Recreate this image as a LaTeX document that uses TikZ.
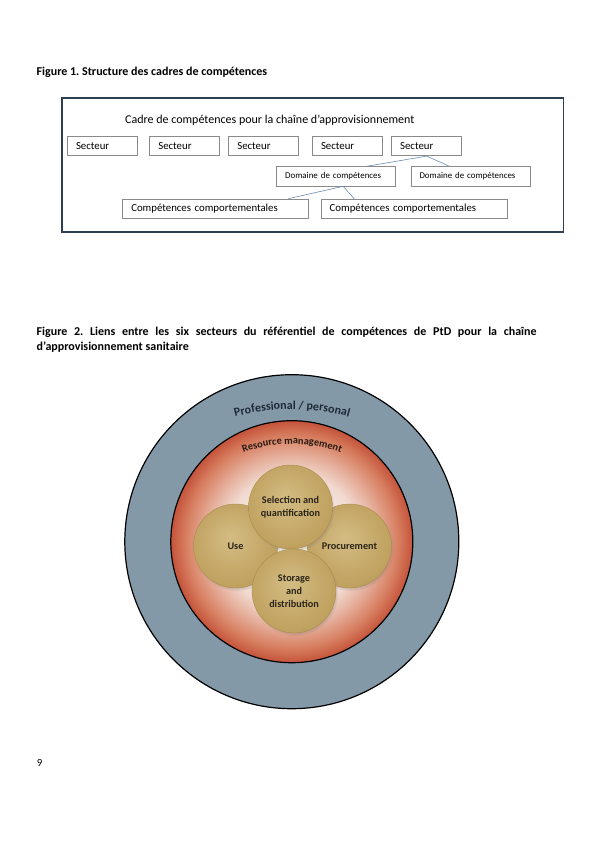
\documentclass[tikz,border=0pt]{standalone}
\usepackage{fontspec}
\setmainfont{Carlito}
\usepackage{xcolor}
\usetikzlibrary{shapes,positioning,calc,decorations.text,shadows,fadings}
\frenchspacing

\definecolor{framecol}{HTML}{2F3F52}
\definecolor{boxline}{HTML}{8A8A8A}
\definecolor{linkcol}{HTML}{6A8CB4}
\definecolor{ringgray}{HTML}{8499A8}
\definecolor{ringtext}{HTML}{1E2A38}
\definecolor{rmLight}{HTML}{F8F1EE}
\definecolor{rmPale}{HTML}{F1DAD0}
\definecolor{rmMid}{HTML}{E5AE9A}
\definecolor{rmWarm}{HTML}{D77E60}
\definecolor{rmEdge}{HTML}{C4533A}
\definecolor{rmtext}{HTML}{2A1A14}
\definecolor{goldLight}{HTML}{D3BC83}
\definecolor{goldDark}{HTML}{BFA05E}
\definecolor{goldrim}{HTML}{A98C4E}
\definecolor{unittext}{HTML}{2A2418}

\pgfdeclareradialshading{redglow}{\pgfpoint{0bp}{0bp}}{color(0bp)=(rmLight); color(8bp)=(rmLight); color(14bp)=(rmPale); color(18bp)=(rmMid); color(22bp)=(rmWarm); color(25bp)=(rmEdge); color(50bp)=(rmEdge)}
\pgfdeclareradialshading{goldglow}{\pgfpoint{-3bp}{5bp}}{color(0bp)=(goldLight); color(27bp)=(goldDark); color(50bp)=(goldDark)}

\begin{document}
\begin{tikzpicture}[x=1pt, y=-1pt]
% Define styles
\tikzstyle{heading} = [anchor=base west, inner sep=0pt, font=\bfseries\fontsize{12}{14}\selectfont]
\tikzstyle{plain} = [anchor=base west, inner sep=0pt, font=\fontsize{12}{14}\selectfont]
\tikzstyle{sectbox} = [rectangle, draw=boxline, line width=0.7pt, minimum height=19.5pt, text width=53pt, inner xsep=8.5pt, inner ysep=0pt, align=left, font=\fontsize{10.8}{12}\selectfont]
\tikzstyle{domainbox} = [rectangle, draw=boxline, line width=0.7pt, minimum height=19.3pt, text width=102pt, inner xsep=8.5pt, inner ysep=0pt, align=left, font=\fontsize{8.9}{10}\selectfont]
\tikzstyle{compbox} = [rectangle, draw=boxline, line width=0.7pt, minimum height=19.3pt, text width=169pt, inner xsep=8.5pt, inner ysep=0pt, align=left, font=\fontsize{10.8}{12}\selectfont]
\tikzstyle{link} = [draw=linkcol, line width=0.6pt]
\tikzstyle{areadisc} = [circle, minimum size=84pt, inner sep=0pt, align=center, draw=goldrim, line width=0.4pt, shading=goldglow, circular drop shadow={shadow xshift=1.2pt, shadow yshift=-2pt, shadow scale=1.03, opacity=0.5}, text=unittext, font=\bfseries\fontsize{10.2}{13}\selectfont]

\useasboundingbox (0,0) rectangle (600,848);
\fill[white] (0,0) rectangle (600,848);

% Figure 1
\node (fig1) [heading] at (36.5,75.7) {Figure 1. Structure des cadres de compétences};
\draw[framecol, line width=1.6pt] (61.7,98.3) rectangle (563.5,231.7);
\node (frametitle) [plain] at (125,123.3) {Cadre de compétences pour la chaîne d’approvisionnement};

\node (sec1) [sectbox] at (102.5,146) {Secteur};
\node (sec2) [sectbox, right=11.6pt of sec1] {Secteur};
\node (sec3) [sectbox, right=8.3pt of sec2] {Secteur};
\node (sec4) [sectbox, right=13pt of sec3] {Secteur};
\node (sec5) [sectbox, right=8.4pt of sec4] {Secteur};
\node (dom1) [domainbox] at (336.2,176.3) {Domaine de compétences};
\node (dom2) [domainbox, right=14.6pt of dom1] {Domaine de compétences};
\node (comp1) [compbox] at (215.8,208.7) {Compétences comportementales};
\node (comp2) [compbox, right=11.7pt of comp1] {Compétences comportementales};

\draw [link] (sec5.south) -- ([xshift=30.5pt]dom1.north);
\draw [link] (sec5.south) -- ([xshift=-21pt]dom2.north);
\draw [link] ([xshift=7pt]dom1.south) -- ([xshift=72.5pt]comp1.north);
\draw [link] ([xshift=7pt]dom1.south) -- ([xshift=-60pt]comp2.north);

% Figure 2
\node (fig2a) [heading] at (36.5,335.5) {\makebox[500pt][s]{Figure 2. Liens entre les six secteurs du référentiel de compétences de PtD pour la chaîne}};
\node (fig2b) [heading] at (36.5,350) {d’approvisionnement sanitaire};

\coordinate (hub) at (291.8,541.7);
\draw[fill=ringgray, line width=1.2pt] (hub) circle[radius=167pt];
\shadedraw[shading=redglow, line width=1.2pt] (hub) circle[radius=121pt];

\coordinate (proarc) at (292,620);
\path[decorate, decoration={text along path, text align=center,
  text={|\bfseries\fontsize{12}{14}\selectfont\color{ringtext}|Professional / personal}}]
  ($(proarc)+(130:211pt)$) arc[start angle=130, end angle=50, radius=211pt];
\coordinate (resarc) at (292,585);
\path[decorate, decoration={text along path, text align=center,
  text={|\bfseries\fontsize{10.4}{12}\selectfont\color{rmtext}|Resource management}}]
  ($(resarc)+(140:141pt)$) arc[start angle=140, end angle=40, radius=141pt];

\node (use) [areadisc] at (235.5,546) {Use};
\node (proc) [areadisc] at (349.5,546) {Procurement};
\node (sel) [areadisc] at (290.5,507) {Selection and\\quantification};
\node (stor) [areadisc] at (294,591) {Storage\\and\\distribution};

\node (pageno) [plain, font=\fontsize{10.8}{12}\selectfont] at (36.7,766.5) {9};
\end{tikzpicture}
\end{document}
